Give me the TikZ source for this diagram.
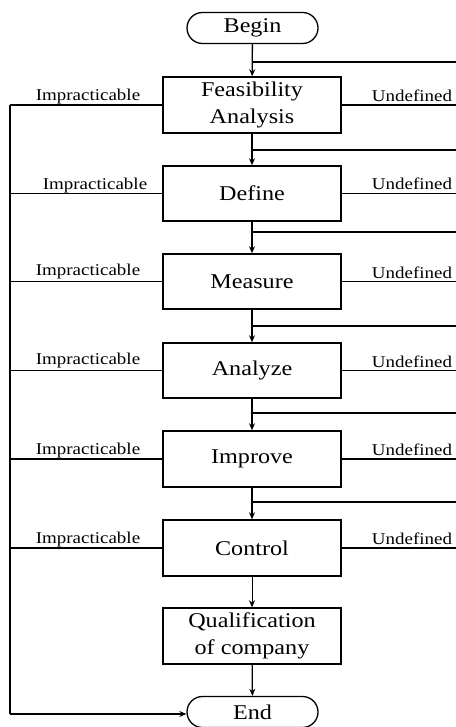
\documentclass[tikz,border=0pt]{standalone}
\usepackage{fontspec}
\setmainfont[FakeStretch=1.15]{Liberation Serif}
\usetikzlibrary{shapes.misc,arrows.meta}
\begin{document}
\begin{tikzpicture}[x=1pt,y=-1pt,
  line width=1.3pt,
  box/.style={draw,line width=1.5pt,minimum width=178pt,minimum height=56pt,inner sep=0pt,align=center,font=\fontsize{21}{27}\selectfont},
  term/.style={draw,line width=1.3pt,rounded rectangle,minimum width=131pt,minimum height=31pt,inner sep=0pt,font=\fontsize{21}{25}\selectfont},
  arr/.style={-{Stealth[length=7pt,width=6pt]}},
  lab/.style={font=\fontsize{16.5}{18}\selectfont,inner sep=0pt,anchor=base}]
\useasboundingbox (0,0) rectangle (455,727);
\node[term] (begin) at (252.5,28) {Begin};
\node[box] (fa) at (252,105) {Feasibility\\Analysis};
\node[box,minimum height=55pt] (de) at (252,193.5) {Define};
\node[box,minimum height=55pt] (me) at (252,281.5) {Measure};
\node[box,minimum height=55pt] (an) at (252,370.5) {Analyze};
\node[box] (im) at (252,459) {Improve};
\node[box] (co) at (252,548) {Control};
\node[box] (qu) at (252,636) {Qualification\\of company};
\node[term] (end) at (252.5,712) {End};
% main flow
\draw[arr] (begin) -- (fa);
\draw[arr] (fa) -- (de);
\draw[arr] (de) -- (me);
\draw[arr] (me) -- (an);
\draw[arr] (an) -- (im);
\draw[arr] (im) -- (co);
\draw[arr,line width=0.8pt] (co) -- (qu);
\draw[arr] (qu) -- (end);
% feedback lines from right edge
\foreach \y/\n in {62/fb0,150/fb1,232/fb2,326/fb3,413/fb4,502/fb5}{
  \coordinate (\n) at (456,\y);
  \draw (\n) -- (252,\y);
}
% undefined lines
\foreach \b/\n in {fa/u0,de/u1,me/u2,an/u3,im/u4,co/u5}{
  \coordinate (\n) at (\b.east -| 456,0);
  \draw (\b.east) -- (\n);
  \node[lab] at ([yshift=3.5pt]\b.east -| 412,0) {Undefined};
}
% impracticable lines
\coordinate (lt) at (10,105);
\coordinate (lb) at (10,714);
\foreach \b in {fa,de,me,an,im,co}{
  \draw (\b.west) -- (\b.west -| lt);
}
\node[lab] at (88,101) {Impracticable};
\node[lab] at (95,189.5) {Impracticable};
\node[lab] at (88,275) {Impracticable};
\node[lab] at (88,364) {Impracticable};
\node[lab] at (88,454) {Impracticable};
\node[lab] at (88,543) {Impracticable};
\draw (lt) -- (lb);
\draw[arr] (lb) -- (lb -| end.west);
\end{tikzpicture}
\end{document}
